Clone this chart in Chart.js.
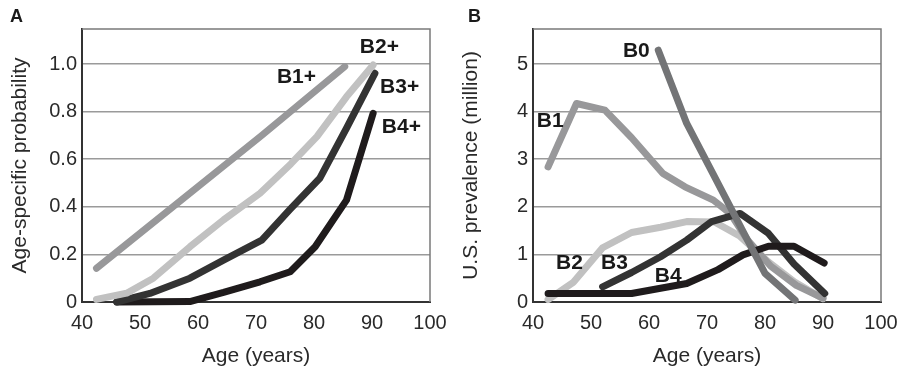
<!DOCTYPE html>
<html>
<head>
<meta charset="utf-8">
<script src="https://cdn.jsdelivr.net/npm/chart.js@4.4.0/dist/chart.umd.min.js"></script>
<style>
  body { margin: 0; background: #fff; }
  #wrap { position: relative; width: 902px; height: 370px; }
  .panel { position: absolute; top: 0; width: 451px; height: 370px; }
</style>
</head>
<body>
<div id="wrap">
  <div class="panel" style="left:0"><canvas id="chartA"></canvas></div>
  <div class="panel" style="left:451px"><canvas id="chartB"></canvas></div>
</div>
<script>
// tick values
const xTicks = [40, 50, 60, 70, 80, 90, 100];
const yTicksA = [0, 0.2, 0.4, 0.6, 0.8, 1.0];
const yTicksB = [0, 1, 2, 3, 4, 5];

// panel A: age-specific probability
const ageB1plus = [42.5, 71, 85.3];
const probB1plus = [0.142, 0.70, 0.989];
const ageB2plus = [42.5, 47.7, 52.3, 58.6, 64.4, 70.7, 76, 80.5, 85.6, 90.2];
const probB2plus = [0.011, 0.037, 0.10, 0.232, 0.345, 0.457, 0.58, 0.695, 0.862, 0.996];
const ageB3plus = [46, 51.7, 58.6, 64.4, 71, 75.9, 81, 85.6, 90.5];
const probB3plus = [0, 0.036, 0.10, 0.176, 0.26, 0.39, 0.52, 0.73, 0.961];
const ageB4plus = [46, 58.6, 64.4, 70.7, 75.9, 80.2, 85.6, 90.2];
const probB4plus = [0, 0.002, 0.04, 0.085, 0.127, 0.232, 0.428, 0.793];

// panel B: U.S. prevalence (million)
const ageB0 = [61.6, 66.5, 71, 76, 80, 85.2];
const prevB0 = [5.29, 3.75, 2.70, 1.53, 0.60, 0.04];
const ageB1 = [42.6, 47.5, 52.4, 57, 62.4, 66.2, 71.1, 74, 77, 81, 85.4, 90];
const prevB1 = [2.84, 4.17, 4.03, 3.45, 2.70, 2.42, 2.14, 1.86, 1.30, 0.75, 0.35, 0.08];
const ageB2 = [42.6, 47, 52, 57, 62, 66.5, 71.3, 75.7, 80.5, 85.1, 90];
const prevB2 = [0.05, 0.42, 1.14, 1.46, 1.57, 1.69, 1.68, 1.38, 0.85, 0.42, 0.07];
const ageB3 = [52, 57, 62, 66.5, 70.8, 75.7, 80.6, 85, 90.3];
const prevB3 = [0.32, 0.62, 0.95, 1.30, 1.69, 1.86, 1.44, 0.80, 0.18];
const ageB4 = [42.6, 57, 66.5, 71.9, 76.2, 80.6, 85, 90.2];
const prevB4 = [0.18, 0.18, 0.39, 0.68, 0.99, 1.17, 1.17, 0.82];

const FONT = "'Liberation Sans', Arial, sans-serif";

function pts(ages, vals) {
  return ages.map((a, i) => ({ x: a, y: vals[i] }));
}

function line(name, ages, vals, color) {
  return {
    label: name,
    data: pts(ages, vals),
    borderColor: color,
    borderWidth: 7,
    pointRadius: 0,
    fill: false,
    tension: 0,
    borderCapStyle: "round",
    borderJoinStyle: "round",
    clip: false
  };
}

// frame, panel letter and series labels
const panelText = {
  id: "panelText",
  afterDraw(chart, args, opts) {
    let ctx = chart.ctx;
    let a = chart.chartArea;
    ctx.save();
    ctx.strokeStyle = "#7a7a7a";
    ctx.lineWidth = 1.5;
    ctx.beginPath();
    ctx.moveTo(a.left, a.top);
    ctx.lineTo(a.right, a.top);
    ctx.lineTo(a.right, a.bottom);
    ctx.stroke();

    ctx.fillStyle = "#1a1a1a";
    ctx.textBaseline = "middle";
    ctx.textAlign = "left";
    ctx.font = "bold 18px " + FONT;
    ctx.fillText(opts.letter, opts.letterX, 17);

    ctx.font = "bold 21px " + FONT;
    let xs = chart.scales.x, ys = chart.scales.y;
    opts.labels.forEach(l => {
      ctx.fillText(l.text, xs.getPixelForValue(l.x), ys.getPixelForValue(l.y));
    });
    ctx.restore();
  }
};

function makePanel(id, datasets, yTicks, yMax, yTitle, fmt, text) {
  let ctx = document.getElementById(id).getContext("2d");
  return new Chart(ctx, {
    type: "line",
    data: { datasets: datasets },
    plugins: [panelText],
    options: {
      responsive: true,
      maintainAspectRatio: false,
      animation: false,
      layout: { padding: { left: 0, top: 29, right: 21, bottom: 0 } },
      plugins: {
        legend: { display: false },
        tooltip: { enabled: false },
        panelText: text
      },
      scales: {
        x: {
          type: "linear",
          min: 40,
          max: 100,
          afterBuildTicks: s => { s.ticks = xTicks.map(v => ({ value: v })); },
          afterFit: s => { s.height = 68; s.paddingLeft = 0; s.paddingRight = 0; },
          grid: { display: false, drawTicks: false },
          border: { color: "#333", width: 2 },
          ticks: { font: { size: 20, family: FONT }, color: "#2a2a2a", padding: 9, maxRotation: 0 },
          title: {
            display: true,
            text: "Age (years)",
            font: { size: 21, family: FONT },
            color: "#2a2a2a",
            padding: { top: 0, bottom: 1 }
          }
        },
        y: {
          min: 0,
          max: yMax,
          afterBuildTicks: s => { s.ticks = yTicks.map(v => ({ value: v })); },
          afterFit: s => { s.width = 82; s.paddingTop = 0; s.paddingBottom = 0; },
          grid: { color: "#9a9a9a", lineWidth: 1.5, drawTicks: false },
          border: { color: "#333", width: 2 },
          ticks: { font: { size: 20, family: FONT }, color: "#2a2a2a", padding: 5, callback: fmt },
          title: {
            display: true,
            text: yTitle,
            font: { size: 21, family: FONT },
            color: "#2a2a2a",
            padding: { top: 8, bottom: 0 }
          }
        }
      }
    }
  });
}

makePanel("chartA", [
  line("B1+", ageB1plus, probB1plus, "#98989a"),
  line("B2+", ageB2plus, probB2plus, "#c1c1c1"),
  line("B3+", ageB3plus, probB3plus, "#333333"),
  line("B4+", ageB4plus, probB4plus, "#1f1b1c")
], yTicksA, 1.147, "Age-specific probability",
  v => v === 0 ? "0" : v.toFixed(1),
  {
    letter: "A", letterX: 10,
    labels: [
      { text: "B1+", x: 73.6, y: 0.944 },
      { text: "B2+", x: 87.9, y: 1.07 },
      { text: "B3+", x: 91.4, y: 0.902 },
      { text: "B4+", x: 91.7, y: 0.733 }
    ]
  });

makePanel("chartB", [
  line("B0", ageB0, prevB0, "#737476"),
  line("B4", ageB4, prevB4, "#1f1b1c"),
  line("B3", ageB3, prevB3, "#333333"),
  line("B1", ageB1, prevB1, "#98989a"),
  line("B2", ageB2, prevB2, "#c1c1c1")
], yTicksB, 5.735, "U.S. prevalence (million)",
  v => String(v),
  {
    letter: "B", letterX: 17,
    labels: [
      { text: "B0", x: 55.5, y: 5.27 },
      { text: "B1", x: 40.64, y: 3.79 },
      { text: "B2", x: 43.97, y: 0.81 },
      { text: "B3", x: 51.72, y: 0.81 },
      { text: "B4", x: 61.0, y: 0.546 }
    ]
  });
</script>
</body>
</html>
